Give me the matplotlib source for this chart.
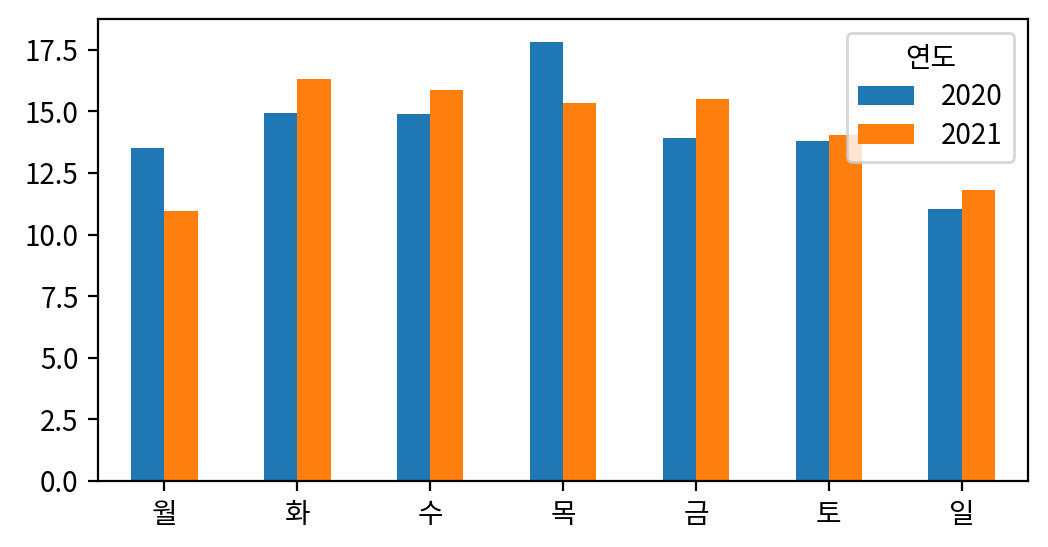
import matplotlib
matplotlib.use('Agg')
import matplotlib.pyplot as plt
import numpy as np
import pandas as pd

plt.rcParams['font.family'] = ['Noto Sans CJK KR', 'DejaVu Sans']
plt.rcParams['axes.unicode_minus'] = False

# 요일별 값
days = ['월', '화', '수', '목', '금', '토', '일']
val_2020 = [13.52, 14.94, 14.90, 17.82, 13.93, 13.80, 11.04]
val_2021 = [10.96, 16.32, 15.87, 15.35, 15.51, 14.05, 11.81]

df = pd.DataFrame({'2020': val_2020, '2021': val_2021}, index=days)
df.columns.name = '연도'

fig = plt.figure(figsize=(5.24, 2.735), dpi=200)
ax = fig.add_axes([0.0935, 0.1207, 0.8875, 0.8446])

df.plot(kind='bar', ax=ax, rot=0)
ax.set_xlabel('')
ax.set_ylim(0, 18.75)
ax.legend(title='연도', loc='upper right', labelspacing=0.3, handletextpad=1.0)

fig.savefig('out.png', dpi=200)
